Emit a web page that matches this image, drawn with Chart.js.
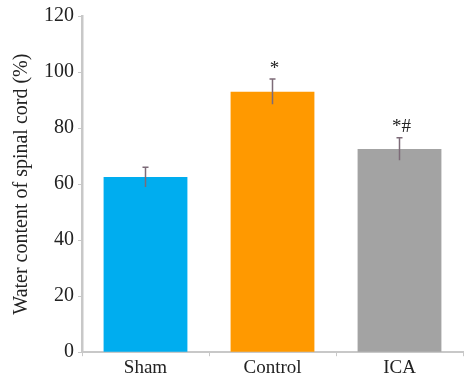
<!DOCTYPE html>
<html>
<head>
<meta charset="utf-8">
<script src="https://cdn.jsdelivr.net/npm/chart.js@4"></script>
<style>
  html, body { margin: 0; padding: 0; background: #fff; }
  #wrap { width: 465px; height: 379px; }
</style>
</head>
<body>
<div id="wrap"><canvas id="c" width="465" height="379"></canvas></div>
<script>
const groups = ['Sham', 'Control', 'ICA'];
const waterContent = [62.5, 93, 72.5];
const errors = [3.5, 4.5, 4];
const marks = ['', '*', '*#'];
const barColors = ['#00adef', '#ff9900', '#a3a3a3'];
const yTicks = [0, 20, 40, 60, 80, 100, 120];

// error bars and significance marks on top of the bars
const errorBars = {
    id: 'errorBars',
    afterDatasetsDraw(chart) {
        const ctx = chart.ctx;
        const y = chart.scales.y;
        const meta = chart.getDatasetMeta(0);
        ctx.save();
        meta.data.forEach((bar, i) => {
            const top = y.getPixelForValue(waterContent[i] + errors[i]);
            const bottom = y.getPixelForValue(waterContent[i] - errors[i]);
            ctx.strokeStyle = '#7d6b78';
            ctx.lineWidth = 1.5;
            ctx.beginPath();
            ctx.moveTo(bar.x, top);
            ctx.lineTo(bar.x, bottom);
            ctx.moveTo(bar.x - 3, top);
            ctx.lineTo(bar.x + 3, top);
            ctx.stroke();
            if (marks[i]) {
                ctx.fillStyle = '#222';
                ctx.font = '19px "Liberation Serif"';
                ctx.textAlign = 'center';
                ctx.textBaseline = 'bottom';
                ctx.fillText(marks[i], bar.x + 2, top - 1);
            }
        });
        ctx.restore();
    }
};

new Chart(document.getElementById('c'), {
    type: 'bar',
    data: {
        labels: groups,
        datasets: [{
            data: waterContent,
            backgroundColor: barColors,
            borderWidth: 0,
            barPercentage: 0.66,
            categoryPercentage: 1
        }]
    },
    options: {
        responsive: false,
        animation: false,
        layout: { padding: { top: 13, right: 2, left: 10, bottom: 0 } },
        plugins: { legend: { display: false }, tooltip: { enabled: false } },
        scales: {
            y: {
                min: 0,
                max: 120,
                afterBuildTicks: (axis) => { axis.ticks = yTicks.map(v => ({ value: v })); },
                border: { color: '#c8c8c8', width: 2.5 },
                grid: { drawOnChartArea: false, drawTicks: true, tickLength: 4, color: '#c8c8c8' },
                ticks: { color: '#222', font: { family: 'Liberation Serif', size: 20 }, padding: 4 },
                title: {
                    display: true,
                    text: 'Water content of spinal cord (%)',
                    color: '#222',
                    font: { family: 'Liberation Serif', size: 20 },
                    padding: { top: 0, bottom: 6 }
                }
            },
            x: {
                border: { color: '#c8c8c8', width: 2 },
                grid: { drawOnChartArea: false, drawTicks: true, tickLength: 4, color: '#c8c8c8' },
                ticks: { color: '#222', font: { family: 'Liberation Serif', size: 19 }, padding: 0 }
            }
        }
    },
    plugins: [errorBars]
});
</script>
</body>
</html>
